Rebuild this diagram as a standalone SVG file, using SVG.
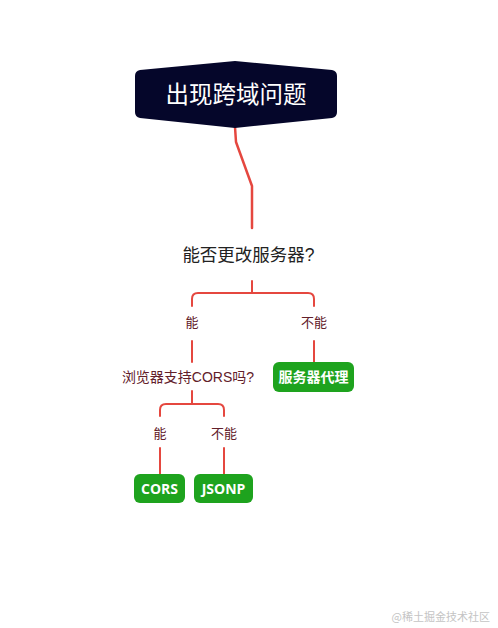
<svg xmlns="http://www.w3.org/2000/svg" width="498" height="628" viewBox="0 0 498 628">
<style>
.ln{fill:none;stroke:#e5473f;stroke-width:2;stroke-linecap:round;stroke-linejoin:round}
.lab{font-family:"Liberation Sans","Noto Sans CJK SC",sans-serif;font-size:13px;fill:#62202a;text-anchor:middle}
.leaf{fill:#1ea31e}
.lt{font-family:"Open Sans","Noto Sans CJK SC",sans-serif;font-size:14px;font-weight:bold;fill:#ffffff;text-anchor:middle}
</style>
<rect width="498" height="628" fill="#ffffff"/>
<g id="connectors">
<path class="ln" d="M235,127 L236,142 L252,186 L252,228" style="stroke-width:2.5"/>
<path class="ln" d="M252,281 L252,293"/>
<path class="ln" d="M192,306 L192,299 Q192,293 198,293 L308,293 Q314,293 314,299 L314,306"/>
<path class="ln" d="M192,341 L192,362"/>
<path class="ln" d="M314,341 L314,363"/>
<path class="ln" d="M192,391 L192,404"/>
<path class="ln" d="M160,416 L160,410 Q160,404 166,404 L218,404 Q224,404 224,410 L224,416"/>
<path class="ln" d="M160,448 L160,474"/>
<path class="ln" d="M224,448 L224,474"/>
</g>
<g id="root">
<path d="M140,70 L235,61 L332,70 Q337,71 337,76 L337,112 Q337,117 332,118 L235,128 L140,118 Q135,117 135,112 L135,76 Q135,71 140,70 Z" fill="#05062a"/>
<text x="236" y="103" font-family="Liberation Sans,'Noto Sans CJK SC',sans-serif" font-size="23.5" fill="#ffffff" text-anchor="middle">出现跨域问题</text>
</g>
<g id="q1">
<text x="248.5" y="261" font-family="Liberation Sans,'Noto Sans CJK SC',sans-serif" font-size="17.5" fill="#222222" text-anchor="middle">能否更改服务器?</text>
</g>
<g id="l-yes1"><text class="lab" x="192" y="327">能</text></g>
<g id="l-no1"><text class="lab" x="314" y="327">不能</text></g>
<g id="q2">
<text class="lab" x="188" y="382" style="font-size:14px">浏览器支持CORS吗?</text>
</g>
<g id="proxy">
<rect class="leaf" x="273" y="362" width="81" height="30" rx="6"/>
<text class="lt" x="313.5" y="382">服务器代理</text>
</g>
<g id="l-yes2"><text class="lab" x="160" y="438">能</text></g>
<g id="l-no2"><text class="lab" x="224" y="438">不能</text></g>
<g id="cors">
<rect class="leaf" x="134" y="474" width="51" height="29" rx="6"/>
<text class="lt" x="159.5" y="494">CORS</text>
</g>
<g id="jsonp">
<rect class="leaf" x="194" y="474" width="59" height="29" rx="6"/>
<text class="lt" x="223.5" y="494">JSONP</text>
</g>
<text x="490" y="621" font-family="'Noto Sans CJK SC',sans-serif" font-size="11" fill="#c4c4c4" text-anchor="end">@稀土掘金技术社区</text>
</svg>
